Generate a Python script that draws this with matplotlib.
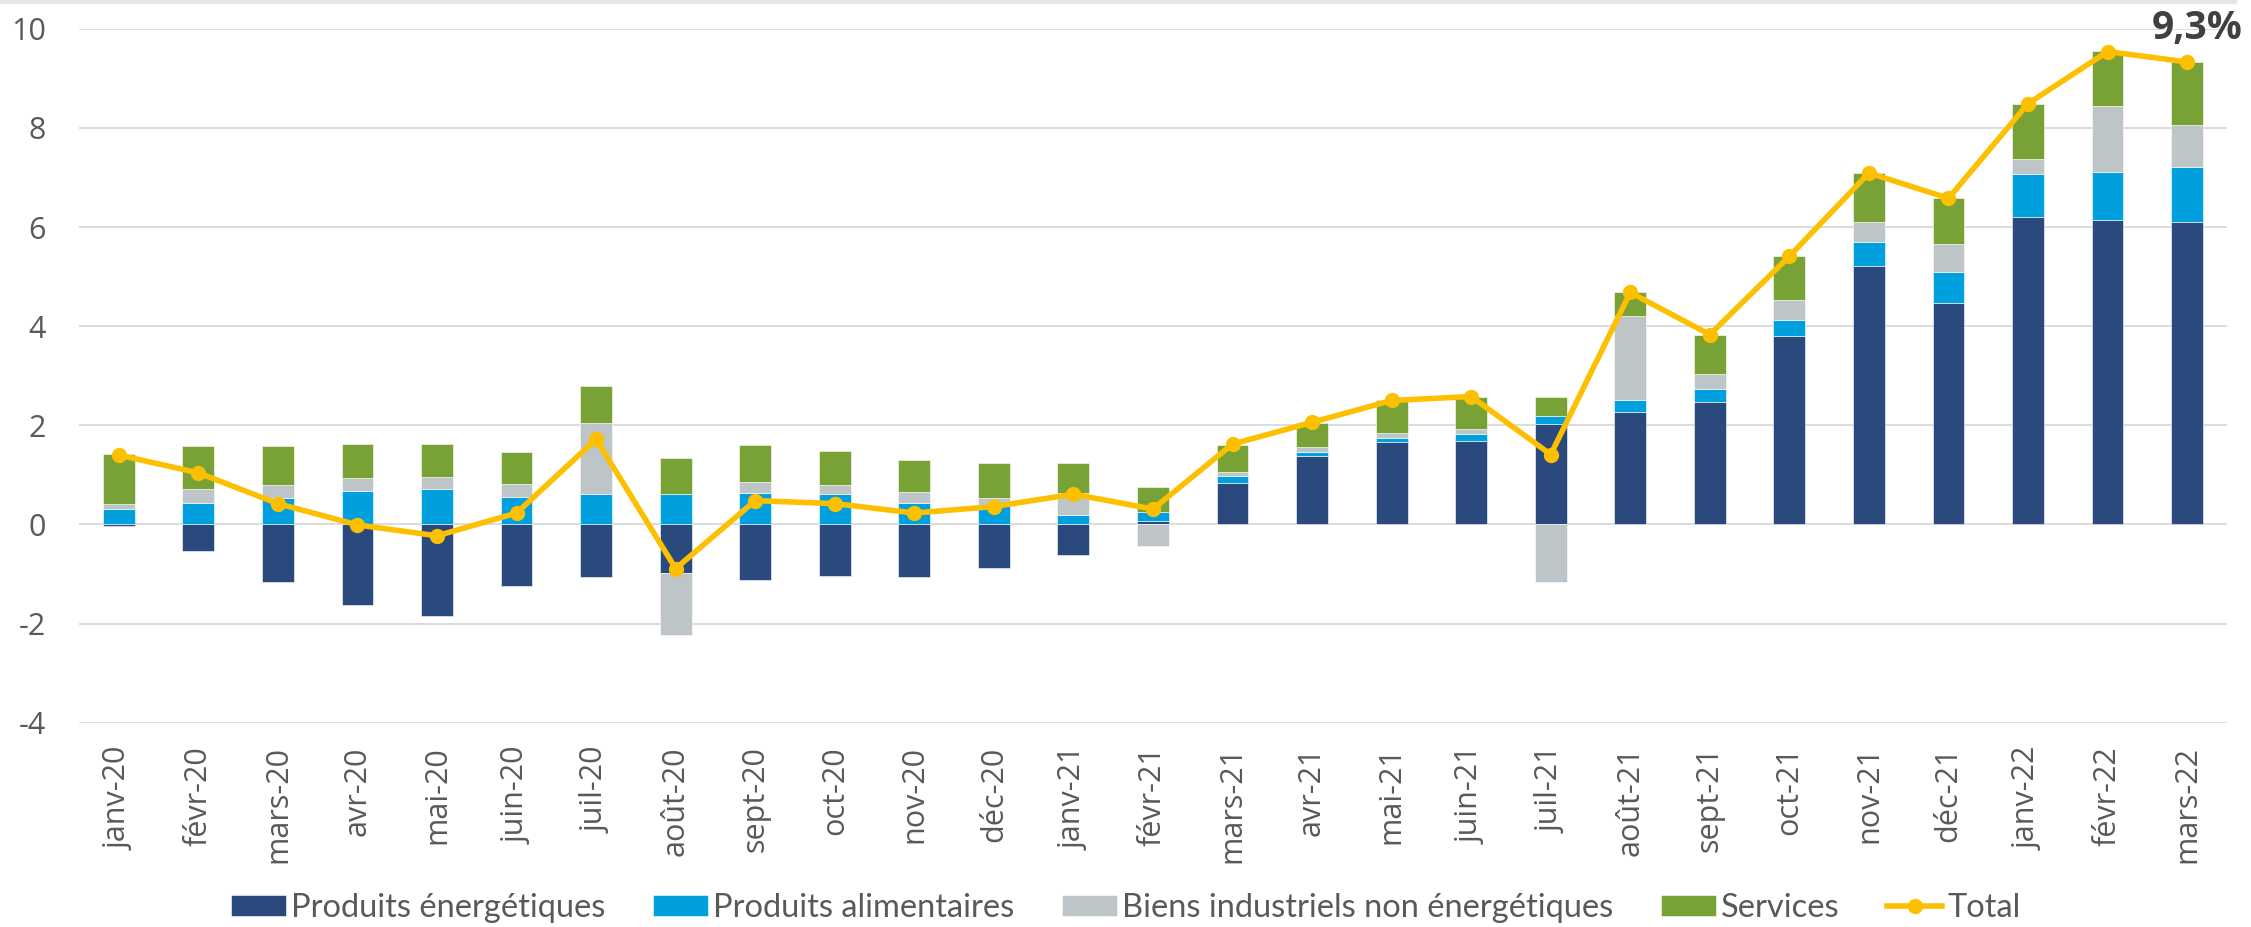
import matplotlib.pyplot as plt
import numpy as np
from matplotlib.lines import Line2D

# Monthly contributions to inflation (points)
months = ['janv-20', 'févr-20', 'mars-20', 'avr-20', 'mai-20', 'juin-20', 'juil-20',
          'août-20', 'sept-20', 'oct-20', 'nov-20', 'déc-20', 'janv-21', 'févr-21',
          'mars-21', 'avr-21', 'mai-21', 'juin-21', 'juil-21', 'août-21', 'sept-21',
          'oct-21', 'nov-21', 'déc-21', 'janv-22', 'févr-22', 'mars-22']

energie = [-0.04, -0.54, -1.16, -1.63, -1.85, -1.24, -1.07, -0.99, -1.13, -1.04, -1.06,
           -0.88, -0.61, 0.06, 0.84, 1.38, 1.67, 1.69, 2.02, 2.27, 2.47, 3.80, 5.22,
           4.47, 6.20, 6.15, 6.10]
alimentaire = [0.32, 0.44, 0.54, 0.68, 0.71, 0.56, 0.62, 0.62, 0.64, 0.62, 0.44, 0.38,
               0.19, 0.19, 0.14, 0.09, 0.07, 0.14, 0.17, 0.24, 0.26, 0.32, 0.47, 0.62,
               0.86, 0.96, 1.12]
biens = [0.09, 0.28, 0.26, 0.26, 0.24, 0.25, 1.42, -1.25, 0.22, 0.17, 0.21, 0.15, 0.44,
         -0.43, 0.08, 0.09, 0.11, 0.10, -1.16, 1.69, 0.30, 0.40, 0.41, 0.57, 0.32, 1.33,
         0.83]
services = [1.02, 0.87, 0.79, 0.68, 0.68, 0.66, 0.75, 0.73, 0.74, 0.69, 0.65, 0.71, 0.60,
            0.50, 0.55, 0.48, 0.66, 0.64, 0.38, 0.49, 0.79, 0.89, 0.99, 0.93, 1.10, 1.11,
            1.28]
total = [1.40, 1.04, 0.42, -0.01, -0.23, 0.23, 1.72, -0.89, 0.48, 0.42, 0.23, 0.36, 0.61,
         0.31, 1.62, 2.06, 2.50, 2.58, 1.41, 4.68, 3.83, 5.41, 7.09, 6.58, 8.49, 9.54, 9.33]

series_names = ['Produits énergétiques', 'Produits alimentaires',
                'Biens industriels non énergétiques', 'Services']
colors = ['#2A4A7E', '#00A0DF', '#BEC5C8', '#78A136']
y_ticks = [-4, -2, 0, 2, 4, 6, 8, 10]
y_labels = ['-4', '-2', '0', '2', '4', '6', '8', '10']

fig = plt.figure(figsize=(22.51, 9.27), dpi=100)
ax = fig.add_axes([0.0351, 0.2204, 0.9542, 0.7486])

x = np.arange(len(months))
pos_bottom = np.zeros(len(months))
neg_bottom = np.zeros(len(months))
handles = []
for vals, name, col in zip([energie, alimentaire, biens, services], series_names, colors):
    v = np.array(vals)
    bottom = np.where(v >= 0, pos_bottom, neg_bottom)
    b = ax.bar(x, v, width=0.4, bottom=bottom, color=col, label=name, zorder=2,
               edgecolor='white', linewidth=0.4)
    handles.append(b)
    pos_bottom += np.where(v >= 0, v, 0)
    neg_bottom += np.where(v < 0, v, 0)

line, = ax.plot(x, total, color='#FDC000', linewidth=4, marker='o', markersize=10,
                label='Total', zorder=3)
handles.append(line)

ax.annotate('9,3%', xy=(x[-1], total[-1]), xytext=(7, 24), textcoords='offset points',
            ha='center', va='center', fontsize=28, fontweight='bold', color='#404040',
            family='Open Sans')

ax.set_xlim(-0.5, len(months) - 0.5)
ax.set_ylim(-4, 10)
ax.set_yticks(y_ticks)
ax.set_yticklabels(y_labels, family='Open Sans', fontsize=22, color='#595959')
ax.set_xticks(x)
ax.set_xticklabels(months, rotation=90, family='Open Sans', fontsize=22,
                   color='#595959', va='top', ha='center')
ax.tick_params(axis='y', length=0, pad=24)
ax.tick_params(axis='x', length=0, pad=17)
ax.grid(axis='y', color='#D9D9D9', linewidth=1.3, zorder=0)
ax.set_axisbelow(True)
for s in ax.spines.values():
    s.set_visible(False)

ax.legend(handles=handles, loc='center', bbox_to_anchor=(0.5, 0.0205),
          bbox_transform=fig.transFigure, ncol=5, frameon=False,
          prop={'family': 'Lato', 'size': 23.5}, labelcolor='#595959',
          handlelength=1.7, handleheight=0.65, handletextpad=0.15, columnspacing=1.45)

# faint frame line at the very top of the picture
fig.add_artist(Line2D([0, 0.993], [0.998, 0.998], transform=fig.transFigure,
                      color='#E6E6E6', linewidth=3))

fig.savefig('out.png', dpi=100)
